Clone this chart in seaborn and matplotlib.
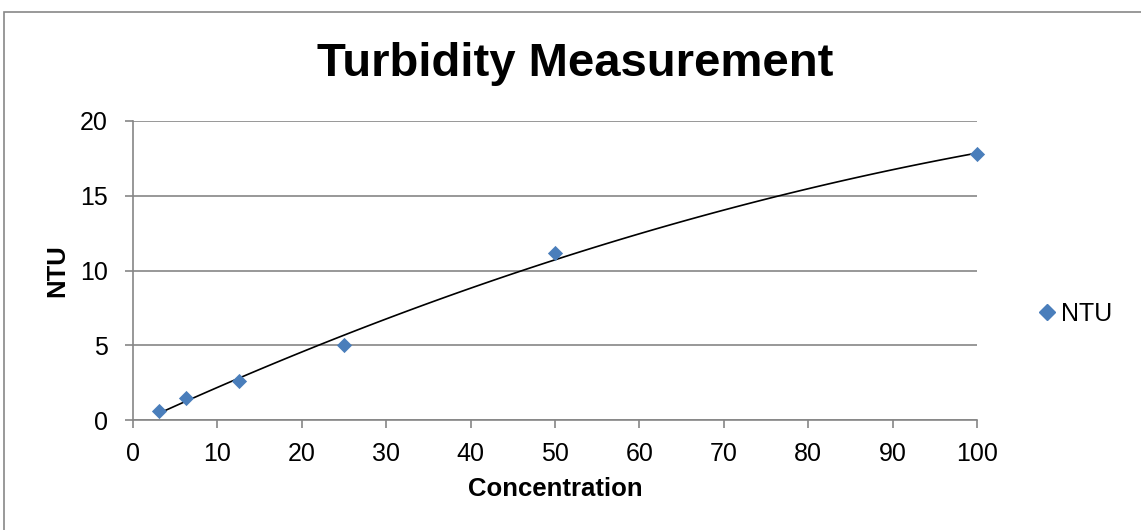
import matplotlib
matplotlib.use("Agg")
import matplotlib.pyplot as plt
import seaborn as sns
import pandas as pd
from matplotlib.patches import Rectangle
from matplotlib.lines import Line2D

concentration = [3.125, 6.25, 12.5, 25, 50, 100]
ntu = [0.62, 1.49, 2.62, 5.05, 11.18, 17.78]
x_ticks = [0, 10, 20, 30, 40, 50, 60, 70, 80, 90, 100]
y_ticks = [0, 5, 10, 15, 20]

df = pd.DataFrame({"Concentration": concentration, "NTU": ntu})

sns.set_theme(style="white")
plt.rcParams['font.family'] = ['Liberation Sans', 'DejaVu Sans']
plt.rcParams['text.color'] = 'black'
plt.rcParams['axes.labelcolor'] = 'black'

fig = plt.figure(figsize=(11.41, 5.30), dpi=100)
ax = fig.add_axes([133/1141, 1-420/530, (977-133)/1141, (420-121)/530])

fig.patches.append(Rectangle((4/1141, -0.05), 1.05, 1-12/530+0.05, transform=fig.transFigure,
                             fill=False, edgecolor="#878787", linewidth=1.2, zorder=0))

sns.regplot(data=df, x="Concentration", y="NTU", order=2, ci=None, scatter=False,
            truncate=True, line_kws=dict(color="black", linewidth=1.2), ax=ax)
sns.scatterplot(data=df, x="Concentration", y="NTU", marker="D", s=60, color="#4A7EBB",
                edgecolor="#4A7EBB", linewidth=0, ax=ax, zorder=3, clip_on=False)

ax.set_xlim(0, 100)
ax.set_ylim(0, 20)
ax.set_xticks(x_ticks)
ax.set_yticks(y_ticks)
ax.yaxis.grid(True, color="#868686", linewidth=1.2)
ax.xaxis.grid(False)
for s in ["top", "right"]:
    ax.spines[s].set_visible(False)
for s in ["left", "bottom"]:
    ax.spines[s].set_color("#868686")
    ax.spines[s].set_linewidth(1.2)
ax.tick_params(axis="both", which="both", direction="out", length=6, width=1.2,
               color="#868686", labelsize=18, labelcolor="black",
               bottom=True, left=True)
ax.tick_params(axis="x", pad=10)
ax.tick_params(axis="y", pad=12)

ax.set_xlabel("Concentration", fontsize=18.5, fontweight="bold", labelpad=8)
ax.set_ylabel("NTU", fontsize=18.5, fontweight="bold", labelpad=8)
fig.text(575/1141, 1-64/530, "Turbidity Measurement", ha="center", va="center",
         fontsize=34, fontweight="bold")

handle = Line2D([], [], marker="D", linestyle="none", color="#4A7EBB", markersize=8)
fig.legend([handle], ["NTU"], loc="center left", bbox_to_anchor=(1022/1141, 1-314/530),
           frameon=False, fontsize=18, handletextpad=0.05, handlelength=1.0, borderpad=0)

fig.savefig("out.png", dpi=100)
